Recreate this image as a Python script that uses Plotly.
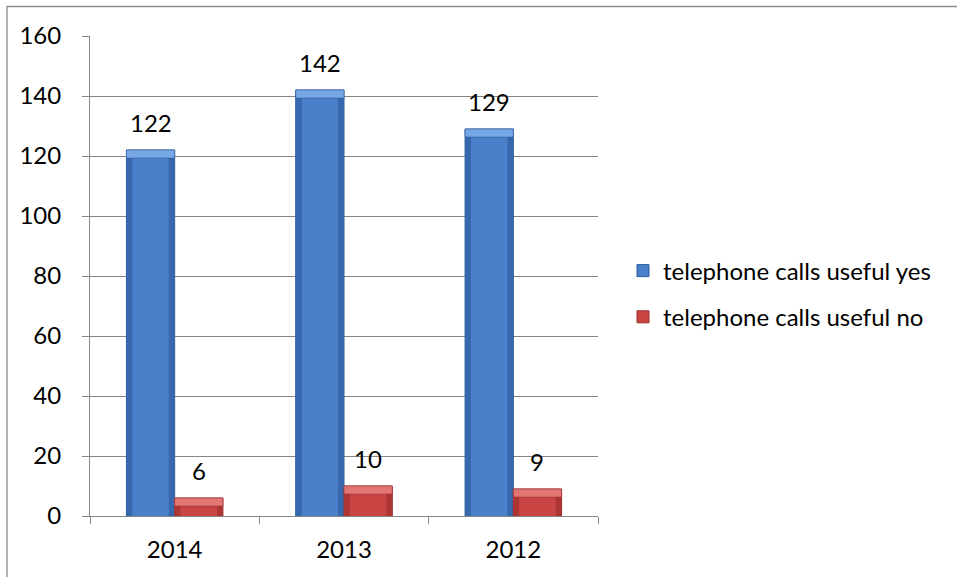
import plotly.graph_objects as go

# Survey data: were telephone calls useful?
years = ["2014", "2013", "2012"]
useful_yes = [122, 142, 129]
useful_no = [6, 10, 9]
y_ticks = [0, 20, 40, 60, 80, 100, 120, 140, 160]

FONT = "Lato, 'Liberation Sans', sans-serif"
GRID = "#868686"

W, H = 957, 577
L, R, T, B = 90, 359, 36, 61
PW, PH = W - L - R, H - T - B

BAR_W = 0.285
CAP = 2.7     # height of the bevel cap, in data units
EDGE = 0.035  # width of the shaded side edges, in category units

series = [
    dict(name="telephone calls useful yes", vals=useful_yes, offset=-BAR_W,
         body="#4a80ca", dark="#3767ad", light="#78a7e6", line="#2c5a9a"),
    dict(name="telephone calls useful no", vals=useful_no, offset=0.0,
         body="#c94543", dark="#ad3634", light="#e27675", line="#9a2e2c"),
]

fig = go.Figure()
for s in series:
    # outlined bar (also the legend entry)
    fig.add_trace(go.Bar(
        x=years, y=s["vals"], width=BAR_W, offset=s["offset"],
        name=s["name"], legendgroup=s["name"],
        marker=dict(color=s["body"], line=dict(color=s["line"], width=1)),
        showlegend=True, hoverinfo="skip"))
    # darker full-width fill gives the shaded sides
    fig.add_trace(go.Bar(
        x=years, y=s["vals"], width=BAR_W, offset=s["offset"],
        marker=dict(color=s["dark"], line=dict(width=0)),
        showlegend=False, hoverinfo="skip"))
    # lighter face in the middle
    fig.add_trace(go.Bar(
        x=years, y=s["vals"], width=BAR_W - 2 * EDGE, offset=s["offset"] + EDGE,
        marker=dict(color=s["body"], line=dict(width=0)),
        showlegend=False, hoverinfo="skip"))
    # bevelled top cap
    fig.add_trace(go.Bar(
        x=years, y=[min(CAP, v) for v in s["vals"]],
        base=[v - min(CAP, v) for v in s["vals"]],
        width=BAR_W, offset=s["offset"],
        marker=dict(color=s["light"], line=dict(color=s["line"], width=0.6)),
        showlegend=False, hoverinfo="skip"))

# value labels above each bar
annotations = []
for s in series:
    for i, v in enumerate(s["vals"]):
        annotations.append(dict(
            x=i + s["offset"] + BAR_W / 2, y=v, xref="x", yref="y",
            text=str(v), showarrow=False, yanchor="middle", yshift=28,
            font=dict(family=FONT, size=24, color="#000000")))

fig.update_layout(
    width=W, height=H,
    margin=dict(l=L, r=R, t=T, b=B, autoexpand=False),
    paper_bgcolor="white", plot_bgcolor="white",
    barmode="overlay",
    font=dict(family=FONT, size=24, color="#000000"),
    annotations=annotations,
    legend=dict(
        x=(623 - L) / PW, xanchor="left",
        y=(H - B - 294) / PH, yanchor="middle",
        font=dict(family=FONT, size=24, color="#000000"),
        tracegroupgap=12, traceorder="grouped",
        bgcolor="rgba(0,0,0,0)", borderwidth=0),
    xaxis=dict(
        type="category", categoryorder="array", categoryarray=years,
        range=[-0.5, 2.5], showgrid=False, zeroline=False,
        showline=True, linecolor=GRID, linewidth=1,
        ticks="outside", tickson="boundaries", ticklen=7, tickcolor=GRID, tickwidth=1,
        ticklabelstandoff=12,
        tickfont=dict(family=FONT, size=24, color="#000000")),
    yaxis=dict(
        range=[0, 160], tickvals=y_ticks, ticktext=[str(t) for t in y_ticks],
        showgrid=True, gridcolor=GRID, gridwidth=1, zeroline=False,
        showline=True, linecolor=GRID, linewidth=1,
        ticks="outside", ticklen=7, tickcolor=GRID, tickwidth=1,
        ticklabelstandoff=16,
        tickfont=dict(family=FONT, size=24, color="#000000")),
    shapes=[dict(
        type="rect", xref="paper", yref="paper",
        x0=(7 - L) / PW, x1=(W + 20 - L) / PW,
        y0=-(B + 20) / PH, y1=1 + (T - 6.5) / PH,
        line=dict(color="#8c8c8c", width=1.3), fillcolor="rgba(0,0,0,0)", layer="below")],
)

fig.write_html("out.html")
